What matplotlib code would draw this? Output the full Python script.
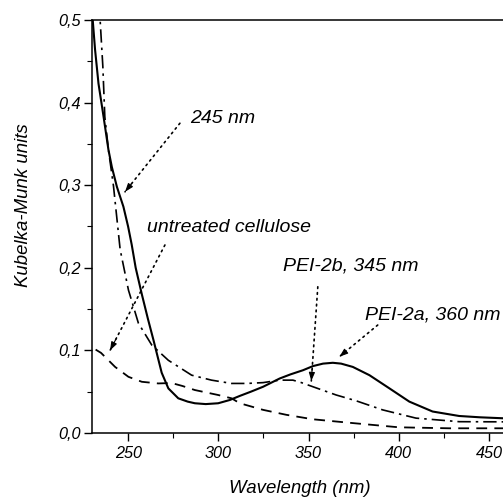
import matplotlib
matplotlib.use("Agg")
import matplotlib.pyplot as plt
from matplotlib.ticker import MultipleLocator, FuncFormatter

# ---- data ----
pei2a_x = [230.0, 230.4, 231.7, 233.6, 236.4, 239.1, 241.0, 243.8, 247.4, 250.0, 252.0, 254.2,
           257.6, 261.0, 264.0, 268.6, 272.3, 277.8, 283.0, 287.0, 293.0, 299.9, 306.4, 312.0,
           318.0, 324.8, 334.0, 340.0, 346.9, 352.4, 358.0, 363.4, 368.0, 374.5, 383.7, 394.8,
           405.8, 418.7, 433.4, 445.0, 458.0]
pei2a_y = [0.52, 0.500, 0.464, 0.423, 0.383, 0.343, 0.322, 0.298, 0.274, 0.250, 0.228, 0.200,
           0.168, 0.138, 0.113, 0.073, 0.054, 0.042, 0.038, 0.036, 0.035, 0.036, 0.040, 0.045,
           0.050, 0.056, 0.066, 0.071, 0.076, 0.081, 0.084, 0.085, 0.084, 0.080, 0.070, 0.054,
           0.038, 0.026, 0.0206, 0.019, 0.0178]

pei2b_x = [234.3, 234.5, 236.0, 237.1, 239.1, 241.9, 245.6, 250.2, 255.7, 263.1, 272.3, 285.2,
           296.2, 307.3, 316.0, 324.8, 334.0, 341.3, 346.0, 352.4, 365.3, 376.3, 391.0, 409.5,
           433.4, 458.0]
pei2b_y = [0.52, 0.500, 0.444, 0.383, 0.343, 0.299, 0.222, 0.173, 0.133, 0.1065, 0.088, 0.070,
           0.064, 0.060, 0.060, 0.061, 0.064, 0.064, 0.061, 0.056, 0.046, 0.039, 0.028, 0.018,
           0.0137, 0.0135]

cell_x = [232.0, 235.0, 242.8, 250.2, 257.6, 266.7, 274.1, 280.0, 287.0, 299.9, 307.3, 311.9,
          324.8, 337.7, 352.4, 374.5, 400.0, 428.0, 458.0]
cell_y = [0.101, 0.097, 0.080, 0.068, 0.062, 0.060, 0.0605, 0.057, 0.052, 0.046, 0.042, 0.036,
          0.028, 0.022, 0.0166, 0.0120, 0.0069, 0.0057, 0.0057]

xticks = [250, 300, 350, 400, 450]
yticks = [0.0, 0.1, 0.2, 0.3, 0.4, 0.5]

FONT = "Liberation Sans"
plt.rcParams["font.family"] = [FONT, "DejaVu Sans"]

fig = plt.figure(figsize=(5.03, 4.97), dpi=100)
ax = fig.add_axes([92 / 503, 1 - 433 / 497, 433.2 / 503, 413 / 497])

ax.plot(pei2a_x, pei2a_y, color="black", lw=1.5, ls="-", solid_capstyle="round",
        solid_joinstyle="round")
ax.plot(pei2b_x, pei2b_y, color="black", lw=1.2, ls=(0, (8, 3, 1.5, 3)))
ax.plot(cell_x, cell_y, color="black", lw=1.3, ls=(0, (6, 4)))

ax.set_xlim(230, 470)
ax.set_ylim(0, 0.5)
ax.set_xticks(xticks)
ax.set_yticks(yticks)
ax.xaxis.set_minor_locator(MultipleLocator(25))
ax.yaxis.set_minor_locator(MultipleLocator(0.05))
ax.yaxis.set_major_formatter(FuncFormatter(lambda v, p: f"{v:.1f}".replace(".", ",")))
ax.tick_params(which="major", direction="out", length=5.8, width=1.0, labelsize=11.7)
ax.tick_params(axis="y", which="major", pad=2)
ax.tick_params(axis="x", which="major", pad=3.5)
ax.tick_params(which="minor", direction="out", length=3.6, width=0.8)
for lab in ax.get_xticklabels() + ax.get_yticklabels():
    lab.set_fontstyle("italic")
ax.spines["right"].set_visible(False)
for s in ["left", "bottom", "top"]:
    ax.spines[s].set_linewidth(1.1)

ax.set_xlabel("Wavelength (nm)", fontsize=13.4, style="italic")
ax.set_ylabel("Kubelka-Munk units", fontsize=13.4, style="italic")
ax.xaxis.set_label_coords(0.48, -0.114)
ax.yaxis.set_label_coords(-0.1385, 0.551)


def dotted_arrow(start, end, text, tpos):
    ax.annotate("", xy=end, xytext=start,
                arrowprops=dict(arrowstyle="-", ls=(0, (1, 2.5)), lw=1.2, color="black",
                                shrinkA=0, shrinkB=0))
    bx = end[0] + (start[0] - end[0]) * 0.12
    by = end[1] + (start[1] - end[1]) * 0.12
    ax.annotate("", xy=end, xytext=(bx, by),
                arrowprops=dict(arrowstyle="-|>,head_length=0.5,head_width=0.18", lw=0.8,
                                color="black", shrinkA=0, shrinkB=0))
    ax.text(tpos[0], tpos[1], text, fontsize=14, style="italic", ha="left", va="baseline")


dotted_arrow((278.7, 0.375), (248.3, 0.292), "245 nm", (284.3, 0.375))
dotted_arrow((270.4, 0.2276), (240.0, 0.100), "untreated cellulose", (260.3, 0.2437))
dotted_arrow((355.1, 0.177), (351.5, 0.063), "PEI-2b, 345 nm", (335.9, 0.1973))
dotted_arrow((388.3, 0.1307), (367.1, 0.0924), "PEI-2a, 360 nm", (381.3, 0.138))

fig.savefig("out.png", dpi=100)
